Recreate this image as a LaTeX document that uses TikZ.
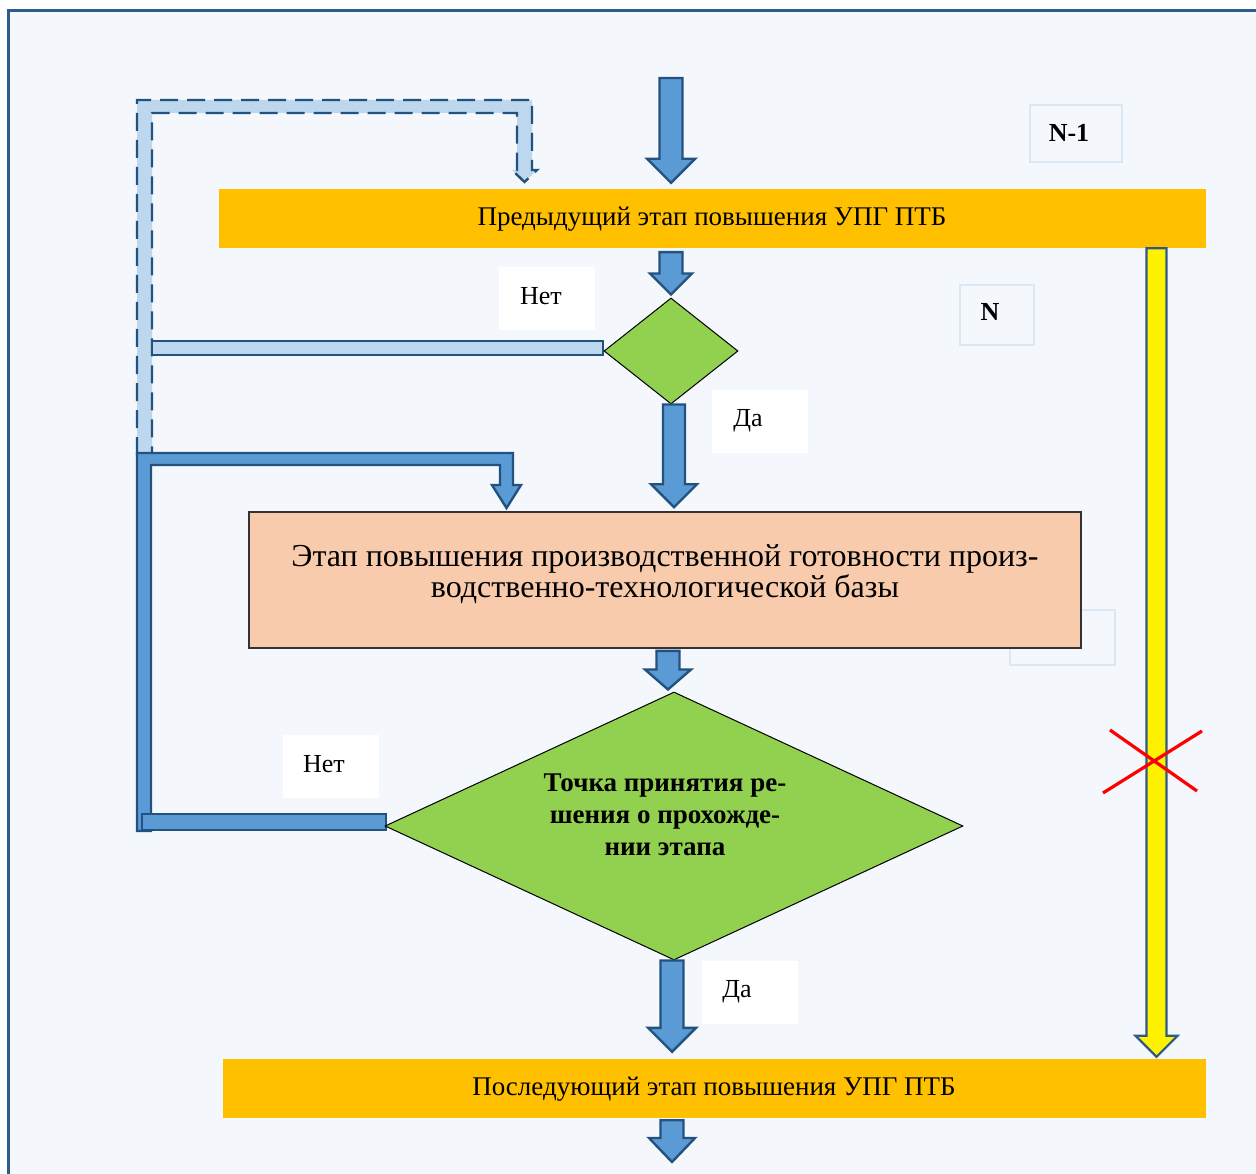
\documentclass[tikz,border=0pt]{standalone}
\usepackage{fontspec}
\setmainfont{Liberation Serif}
\usetikzlibrary{calc,shapes.geometric}
\definecolor{frameblue}{HTML}{2B5C8C}
\definecolor{bgblue}{HTML}{F4F7FB}
\definecolor{arrblue}{HTML}{5B9BD5}
\definecolor{arrline}{HTML}{24527F}
\definecolor{lightarr}{HTML}{BDD7EE}
\definecolor{barorange}{HTML}{FFC000}
\definecolor{boxpeach}{HTML}{F8CBAD}
\definecolor{dgreen}{HTML}{92D050}
\definecolor{faintbox}{HTML}{DCE7F4}
\definecolor{yarrline}{HTML}{2E5A87}
\newcommand\blkarrow[7]{%
  \draw[#1] let \p1=#3, \p2=#4, \p3=#2 in
  (\x3-#5pt,\y1) -- (\x3+#5pt,\y1) -- (\x3+#5pt,\y2+#7pt) -- (\x3+#6pt,\y2+#7pt)
  -- (\x3,\y2) -- (\x3-#6pt,\y2+#7pt) -- (\x3-#5pt,\y2+#7pt) -- cycle;}
\tikzset{
  barbox/.style={fill=barorange, inner sep=0pt, minimum width=#1, minimum height=59},
  tagbox/.style={draw=faintbox, line width=1.2pt, fill=bgblue, inner sep=0pt},
  whitebox/.style={fill=white, inner sep=0pt, minimum width=96, minimum height=63},
  blockarr/.style={fill=arrblue, draw=arrline, line width=2.4pt, line join=miter},
  yarrow/.style={fill=yellow, draw=yarrline, line width=2.2pt, line join=miter},
  dashedarr/.style={fill=lightarr, draw=arrline, line width=2.4pt, dash pattern=on 18pt off 9pt},
  lightbar/.style={fill=lightarr, draw=arrline, line width=2.2pt},
  solidarr/.style={fill=arrblue, draw=arrline, line width=2.4pt},
  decision/.style={diamond, fill=dgreen, draw=black, line width=1pt, inner sep=0pt},
  redx/.style={draw=red, line width=3.2pt},
  barfont/.style={font=\fontsize{27}{30}\selectfont},
  labfont/.style={font=\fontsize{26}{30}\selectfont},
  boldfont/.style={font=\fontsize{27}{32}\selectfont\bfseries},
  tagfont/.style={font=\fontsize{26}{30}\selectfont\bfseries},
  bigfont/.style={font=\fontsize{32}{31}\selectfont}
}
\begin{document}
\begin{tikzpicture}[x=1pt,y=-1pt]
\useasboundingbox (0,0) rectangle (1256,1174);
\fill[white] (0,0) rectangle (1256,1174);
\fill[bgblue] (8,11) rectangle (1256,1174);
\draw[frameblue, line width=3pt] (8,1174) -- (8,11) -- (1256,11);

% nodes
\node[barbox=987] (bar1) at (712.5,218.5) {};
\node[barfont] (bar1t) at (712,219) {Предыдущий этап повышения УПГ ПТБ};
\node[barbox=983] (bar2) at (714.5,1088.5) {};
\node[barfont] (bar2t) at (714,1089) {Последующий этап повышения УПГ ПТБ};

\node[tagbox, minimum width=92, minimum height=57] (nm1) at (1076,133.5) {};
\node[tagfont] (nm1t) at (1069,133) {N-1};
\node[tagbox, minimum width=74, minimum height=60] (nn) at (997,315) {};
\node[tagfont] (nnt) at (990,312) {N};
\node[tagbox, minimum width=105, minimum height=55] (blank) at (1062.5,637.5) {};

\node[whitebox] (net1) at (547,298.5) {};
\node[labfont] (net1t) at (541,296) {Нет};
\node[whitebox] (da1) at (760,421.5) {};
\node[labfont] (da1t) at (748,421) {Да};
\node[whitebox] (net2) at (330.5,766.5) {};
\node[labfont] (net2t) at (324,764) {Нет};
\node[whitebox] (da2) at (749.5,992) {};
\node[labfont] (da2t) at (737,992) {Да};

% feedback connectors
\draw[dashedarr] (137,455) -- (137,100) -- (532,100) -- (532,170) -- (537,170)
  -- (524.5,182) -- (512,170) -- (517,170) -- (517,113) -- (152,113) -- (152,455);
\draw[lightbar] (152,341) rectangle (603,355);
\draw[solidarr] (137,831) -- (137,453) -- (513,453) -- (513,485) -- (521,485)
  -- (506.5,508) -- (492,485) -- (500,485) -- (500,465) -- (151,465) -- (151,831) -- cycle;
\draw[solidarr] (142,814) rectangle (386,830);

% decisions and main box
\node[decision, minimum width=134, minimum height=106] (d1) at (671,351) {};
\node[draw=black!80, line width=1.6pt, fill=boxpeach, minimum width=832, minimum height=136, inner sep=0pt] (main) at (665,580) {};
\node[bigfont, align=center] (maint) at (665,574) {Этап повышения производственной готовности произ-\\водственно-технологической базы};
\node[decision, minimum width=578, minimum height=268] (d2) at (674,826) {};
\node[boldfont, align=center] (d2t) at (665,815) {Точка принятия ре-\\шения о прохожде-\\нии этапа};

% main flow arrows
\coordinate (in1) at (671,78);
\coordinate (out1) at (672,1162);
\blkarrow{blockarr}{(671,0)}{(in1)}{($(bar1.north)+(0,-6)$)}{11.5}{24}{24}
\blkarrow{blockarr}{(671,0)}{($(bar1.south)+(0,4)$)}{($(d1.north)+(0,-3)$)}{11.5}{21}{21}
\blkarrow{blockarr}{(674,0)}{(d1.south)}{($(main.north)+(0,-4)$)}{11}{23}{23}
\blkarrow{blockarr}{(668,0)}{($(main.south)+(0,2)$)}{($(d2.north)+(0,-2)$)}{11.5}{23}{20}
\blkarrow{blockarr}{(672,0)}{(d2.south)}{($(bar2.north)+(0,-7)$)}{11.5}{24}{24}
\blkarrow{blockarr}{(672,0)}{($(bar2.south)+(0,2)$)}{(out1)}{11.5}{23}{24}

% bypass arrow
\blkarrow{yarrow}{(1156.5,0)}{(bar1.south)}{($(bar2.north)+(0,-2)$)}{10}{21}{21}
\draw[redx] (1110,730) -- (1197,791);
\draw[redx] (1103,793) -- (1202,731);
\end{tikzpicture}
\end{document}
